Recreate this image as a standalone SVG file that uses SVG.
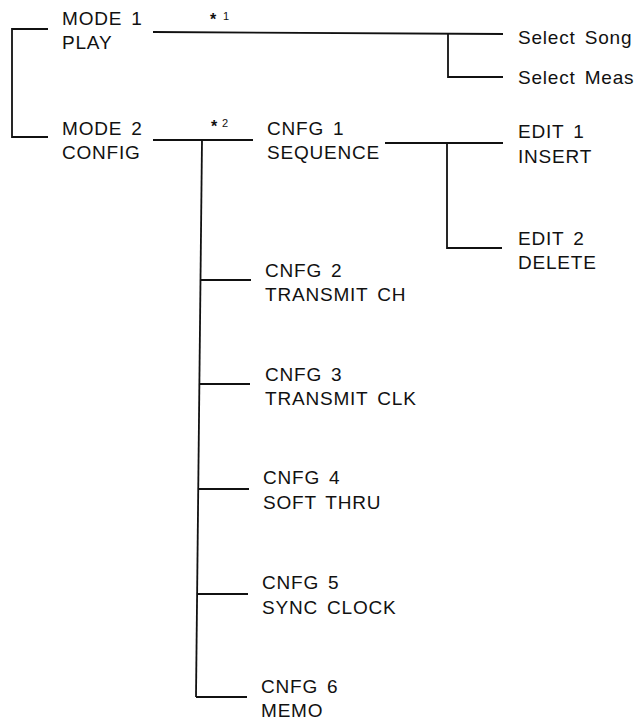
<svg xmlns="http://www.w3.org/2000/svg" width="637" height="722" viewBox="0 0 637 722">
<style>
.t{font-family:"Liberation Sans",Arial,sans-serif;font-size:19px;fill:#111;letter-spacing:0.8px;word-spacing:3px}
.a{font-family:"Liberation Sans",Arial,sans-serif;font-size:16px;font-weight:bold;fill:#111}
.s{font-family:"Liberation Sans",Arial,sans-serif;font-size:11px;fill:#111}
.c{fill:none;stroke:#111;stroke-width:1.8}
</style>
<rect width="637" height="722" fill="#fff"/>
<g id="connectors" class="c">
<path d="M48,29 H12 V137 H48"/>
<path d="M153,32 L503,34"/>
<path d="M448,33 V77 H503"/>
<path d="M153,140 H253"/>
<path d="M202,140 L196,697"/>
<path d="M200,280 H251"/>
<path d="M199,384 H250"/>
<path d="M199,489 H249"/>
<path d="M198,594 H248"/>
<path d="M196,697 H247"/>
<path d="M385,143 H503"/>
<path d="M447,143 V248 H502"/>
</g>
<g id="mode1"><text class="t" x="62" y="25">MODE 1</text><text class="t" x="62" y="49">PLAY</text></g>
<g id="mode2"><text class="t" x="62" y="135">MODE 2</text><text class="t" x="62" y="159">CONFIG</text></g>
<g id="note1"><text class="a" x="210" y="25">*</text><text class="s" x="223" y="20">1</text></g>
<g id="note2"><text class="a" x="211" y="132">*</text><text class="s" x="222" y="127">2</text></g>
<g id="select-song"><text class="t" x="518" y="44">Select Song</text></g>
<g id="select-meas"><text class="t" x="518" y="84">Select Meas</text></g>
<g id="cnfg1"><text class="t" x="267" y="135">CNFG 1</text><text class="t" x="267" y="159">SEQUENCE</text></g>
<g id="edit1"><text class="t" x="518" y="138">EDIT 1</text><text class="t" x="518" y="163">INSERT</text></g>
<g id="edit2"><text class="t" x="518" y="245">EDIT 2</text><text class="t" x="518" y="269">DELETE</text></g>
<g id="cnfg2"><text class="t" x="265" y="277">CNFG 2</text><text class="t" x="265" y="301">TRANSMIT CH</text></g>
<g id="cnfg3"><text class="t" x="265" y="381">CNFG 3</text><text class="t" x="265" y="405">TRANSMIT CLK</text></g>
<g id="cnfg4"><text class="t" x="263" y="484">CNFG 4</text><text class="t" x="263" y="509">SOFT THRU</text></g>
<g id="cnfg5"><text class="t" x="262" y="589">CNFG 5</text><text class="t" x="262" y="614">SYNC CLOCK</text></g>
<g id="cnfg6"><text class="t" x="261" y="693">CNFG 6</text><text class="t" x="261" y="717">MEMO</text></g>
</svg>
